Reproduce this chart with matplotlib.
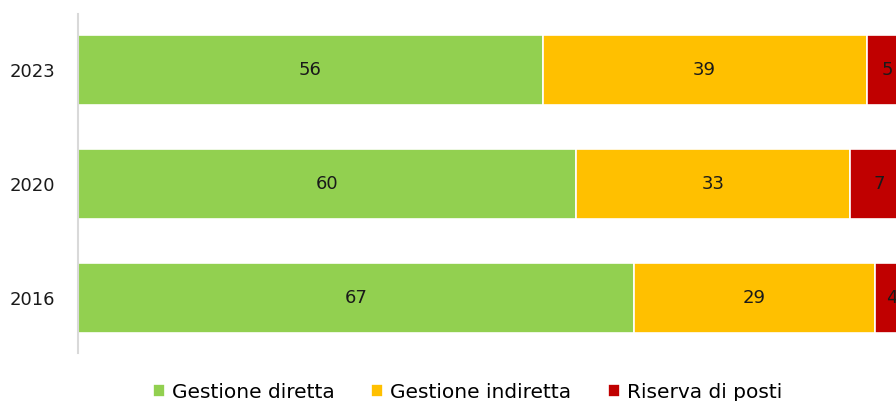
import matplotlib.pyplot as plt
import numpy as np

plt.rcParams["font.family"] = ["DejaVu Sans"]

years = ["2016", "2020", "2023"]
diretta = [67, 60, 56]
indiretta = [29, 33, 39]
riserva = [4, 7, 5]

series = [
    ("Gestione diretta", diretta, "#92d050"),
    ("Gestione indiretta", indiretta, "#ffc000"),
    ("Riserva di posti", riserva, "#c00000"),
]

fig = plt.figure(figsize=(8.96, 4.01), dpi=100)
# axes run past the right edge, as in the cropped original
ax = fig.add_axes([78 / 896, 1 - 353 / 401, 830 / 896, 339 / 401])

y = np.arange(len(years))
left = np.zeros(len(years))
for name, vals, color in series:
    vals = np.array(vals, dtype=float)
    ax.barh(y, vals, left=left, height=0.615, color=color,
            edgecolor="white", linewidth=1.2, label=name)
    for yi, l, v in zip(y, left, vals):
        ax.text(l + v / 2, yi, f"{v:.0f}", ha="center", va="center",
                fontsize=13, color="#1a1a1a")
    left += vals

ax.set_xlim(0, 100)
ax.set_ylim(-0.48, 2.49)
ax.set_yticks(y)
ax.set_yticklabels(years, fontsize=13, color="#1a1a1a")
ax.tick_params(axis="y", length=0, pad=16.5)
ax.set_xticks([])
for s in ["top", "right", "bottom"]:
    ax.spines[s].set_visible(False)
ax.spines["left"].set_color("#d9d9d9")
ax.spines["left"].set_linewidth(1.5)

fig.legend(loc="center", bbox_to_anchor=(0.522, 0.022), ncol=3,
           frameon=False, fontsize=14.5, handlelength=0.6, handleheight=0.6,
           handletextpad=0.35, columnspacing=1.8)

fig.savefig("out.png", dpi=100)
